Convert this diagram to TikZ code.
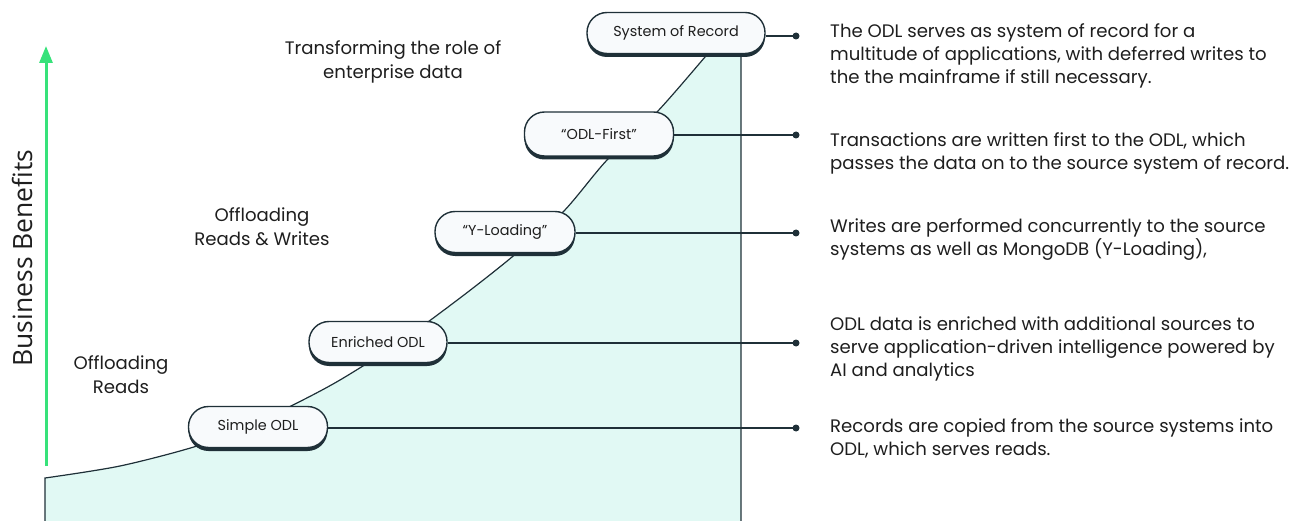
\documentclass[tikz,border=0pt]{standalone}
\usepackage{fontspec}
\setmainfont{Poppins}
\newfontfamily\bbfont{Open Sans}
\usetikzlibrary{shadows,arrows.meta}
\definecolor{mint}{HTML}{E1F9F4}
\definecolor{slate}{HTML}{1F3038}
\definecolor{nodefill}{HTML}{F8FAFC}
\definecolor{arrowgreen}{HTML}{37E27A}
\definecolor{ink}{HTML}{1E1E1E}
\begin{document}
\begin{tikzpicture}[x=1pt,y=-1pt,
 stagebox/.style={draw=slate, line width=1.4pt, fill=nodefill, rounded corners=20pt,
   minimum height=41pt, inner sep=0pt, font=\fontsize{14.4}{17}\selectfont, text=ink,
   drop shadow={shadow xshift=0pt, shadow yshift=-3.5pt, fill=slate, opacity=1}},
 desc/.style={anchor=west, align=left, inner sep=0pt, font=\fontsize{18.1}{23}\selectfont, text=ink},
 phase/.style={align=center, inner sep=0pt, font=\fontsize{18.1}{24}\selectfont, text=ink},
 leader/.style={draw=slate, line width=1.2pt},
 dotend/.style={circle, fill=slate, inner sep=0pt, minimum size=7pt}
]
\useasboundingbox (0,0) rectangle (1305,521);

% growth area
\fill[mint] (45,521) -- (45,478)
  -- plot[smooth] coordinates {(45,478) (120,466) (197,446) (250,425) (293,405) (340,380)
    (400,342) (460,298) (512,257) (563,212) (607,160) (657,112) (705,57) (715,45)}
  -- (741,45) -- (741,521) -- cycle;
\draw[slate, line width=1.2pt] (45,521) -- (45,478)
  -- plot[smooth] coordinates {(45,478) (120,466) (197,446) (250,425) (293,405) (340,380)
    (400,342) (460,298) (512,257) (563,212) (607,160) (657,112) (705,57) (715,45)}
  -- (741,45) -- (741,521);

% axis
\coordinate (axbot) at (46,466);
\coordinate (axtop) at (46,46);
\draw[arrowgreen, line width=3pt, -{Triangle[length=17pt,width=13pt]}] (axbot) -- (axtop);
\node[rotate=90, inner sep=0pt, font=\bbfont\fontsize{26.5}{30}\selectfont, text=ink] (bb) at (22,258) {Business Benefits};

% stages
\node[stagebox, minimum width=178pt] (sor) at (676,33) {System of Record};
\node[stagebox, minimum width=149pt, minimum height=44pt] (first) at (599,134) {“ODL-First”};
\node[stagebox, minimum width=140pt] (yload) at (505,232) {“Y-Loading”};
\node[stagebox, minimum width=138pt] (enr) at (378,342) {Enriched ODL};
\node[stagebox, minimum width=139pt] (simple) at (258,427) {Simple ODL};

% leader dots
\node[dotend] (d1) at (796,36) {};
\node[dotend] (d2) at (796,135) {};
\node[dotend] (d3) at (796,233) {};
\node[dotend] (d4) at (796,343) {};
\node[dotend] (d5) at (796,428) {};
\draw[leader] (sor.east |- d1) -- (d1.center);
\draw[leader] (first.east |- d2) -- (d2.center);
\draw[leader] (yload.east |- d3) -- (d3.center);
\draw[leader] (enr.east |- d4) -- (d4.center);
\draw[leader] (simple.east |- d5) -- (d5.center);

% descriptions
\node[desc] (t1) at (830,56) {The ODL serves as system of record for a\\multitude of applications, with deferred writes to\\the the mainframe if still necessary.};
\node[desc] (t2) at (830,153) {Transactions are written first to the ODL, which\\passes the data on to the source system of record.};
\node[desc] (t3) at (830,240) {Writes are performed concurrently to the source\\systems as well as MongoDB (Y-Loading),};
\node[desc] (t4) at (830,349) {ODL data is enriched with additional sources to\\serve application-driven intelligence powered by\\AI and analytics};
\node[desc] (t5) at (830,438) {Records are copied from the source systems into\\ODL, which serves reads.};

% phase labels
\node[phase] (p1) at (393,62) {Transforming the role of\\enterprise data};
\node[phase] (p2) at (262,227) {Offloading\\Reads \& Writes};
\node[phase] (p3) at (121,375) {Offloading\\Reads};
\end{tikzpicture}
\end{document}
